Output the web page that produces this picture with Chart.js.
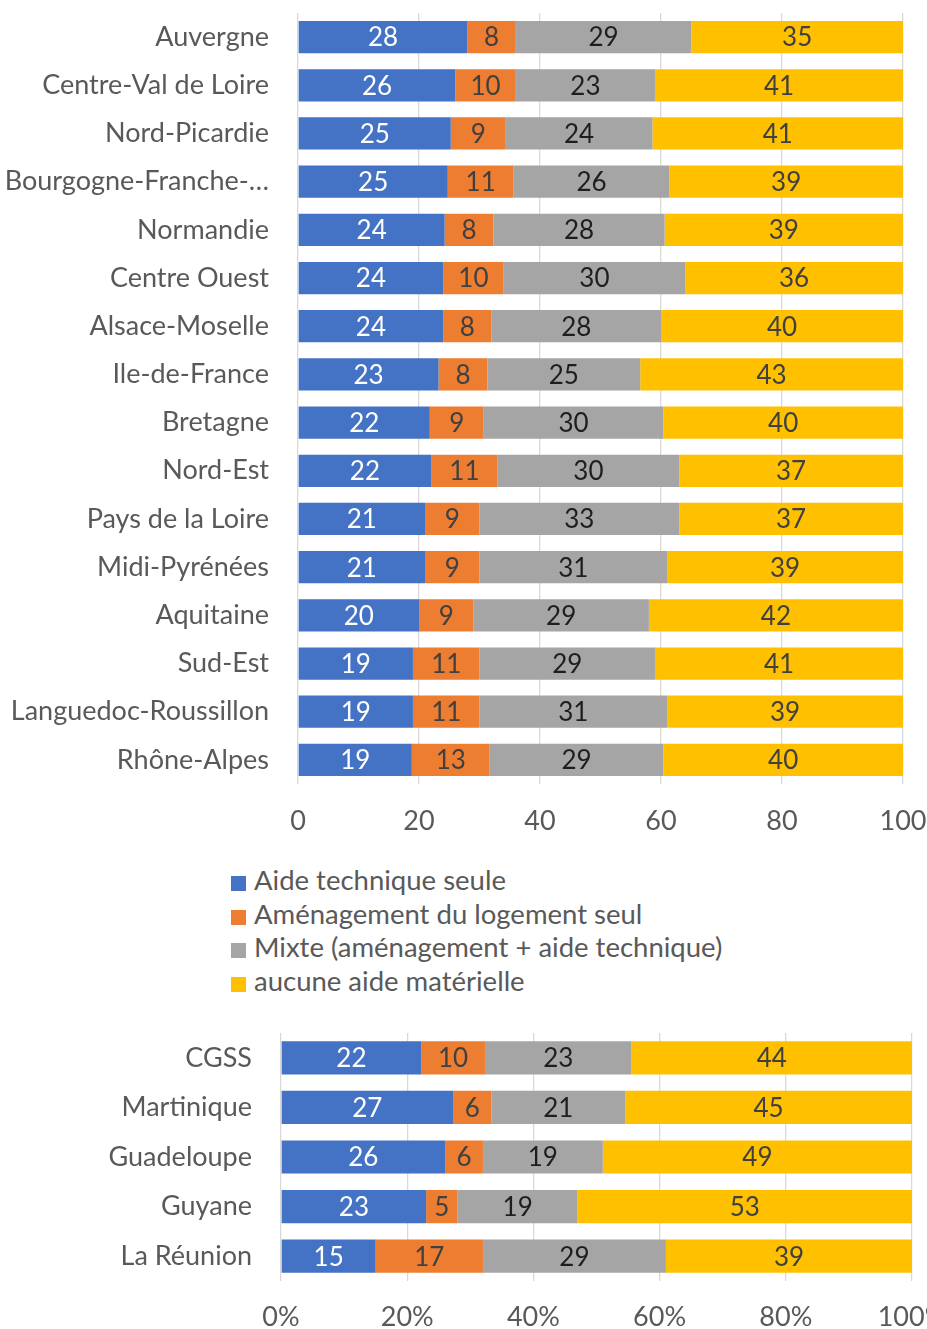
<!DOCTYPE html>
<html>
<head>
<meta charset="utf-8">
<script src="https://cdn.jsdelivr.net/npm/chart.js@4.4.1/dist/chart.umd.min.js"></script>
<style>
  body { margin: 0; background: #fff; width: 927px; height: 1329px; position: relative; overflow: hidden; }
  #top-wrap { position: absolute; left: 0; top: 0; width: 927px; height: 840px; }
  #bot-wrap { position: absolute; left: 0; top: 1010px; width: 927px; height: 319px; }
  #legend { position: absolute; left: 231px; top: 863px; font-family: Lato, sans-serif; font-size: 27.5px; color: #595959; }
  #legend div { height: 33.7px; line-height: 33.7px; white-space: nowrap; }
  #legend span.box { display: inline-block; width: 15px; height: 15px; margin-right: 8px; vertical-align: -1px; }
</style>
</head>
<body>
<div id="top-wrap"><canvas id="chart-regions"></canvas></div>
<div id="legend"></div>
<div id="bot-wrap"><canvas id="chart-dom"></canvas></div>
<script>
// series names and colours
var seriesNames = ["Aide technique seule", "Aménagement du logement seul", "Mixte (aménagement + aide technique)", "aucune aide matérielle"];
var seriesColors = ["#4472C4", "#ED7D31", "#A5A5A5", "#FFC000"];
var labelColors = ["#ffffff", "#404040", "#1e1e1e", "#404040"];

// top chart - regions
var regions = ["Auvergne", "Centre-Val de Loire", "Nord-Picardie", "Bourgogne-Franche-…", "Normandie", "Centre Ouest",
  "Alsace-Moselle", "Ile-de-France", "Bretagne", "Nord-Est", "Pays de la Loire", "Midi-Pyrénées", "Aquitaine",
  "Sud-Est", "Languedoc-Roussillon", "Rhône-Alpes"];
var regAide = [28, 26, 25, 25, 24, 24, 24, 23, 22, 22, 21, 21, 20, 19, 19, 19];
var regAmenag = [8, 10, 9, 11, 8, 10, 8, 8, 9, 11, 9, 9, 9, 11, 11, 13];
var regMixte = [29, 23, 24, 26, 28, 30, 28, 25, 30, 30, 33, 31, 29, 29, 31, 29];
var regAucune = [35, 41, 41, 39, 39, 36, 40, 43, 40, 37, 37, 39, 42, 41, 39, 40];
var regTicks = [0, 20, 40, 60, 80, 100];

// bottom chart - DOM
var doms = ["CGSS", "Martinique", "Guadeloupe", "Guyane", "La Réunion"];
var domAide = [22, 27, 26, 23, 15];
var domAmenag = [10, 6, 6, 5, 17];
var domMixte = [23, 21, 19, 19, 29];
var domAucune = [44, 45, 49, 53, 39];

var FONT = "Lato";
var TEXT = "#595959";
var GRID = "#d9d9d9";

// bars are 100% stacked, labels show the values read
function makeDatasets(series) {
  var totals = series[0].map(function (v, j) {
    return series.reduce(function (s, arr) { return s + arr[j]; }, 0);
  });
  return series.map(function (arr, i) {
    return {
      label: seriesNames[i],
      data: arr.map(function (v, j) { return v / totals[j] * 100; }),
      shown: arr,
      backgroundColor: seriesColors[i],
      borderWidth: 0,
      barPercentage: 0.67,
      categoryPercentage: 1
    };
  });
}

var barLabels = {
  id: "barLabels",
  afterDatasetsDraw: function (chart) {
    var ctx = chart.ctx;
    ctx.save();
    ctx.font = "26px " + FONT;
    ctx.textAlign = "center";
    ctx.textBaseline = "middle";
    chart.data.datasets.forEach(function (ds, i) {
      chart.getDatasetMeta(i).data.forEach(function (bar, j) {
        var p = bar.getProps(["x", "y", "base"], true);
        ctx.fillStyle = labelColors[i];
        ctx.fillText(ds.shown[j], (p.x + p.base) / 2, p.y + 1);
      });
    });
    ctx.restore();
  }
};

function makeChart(id, cats, series, opts) {
  return new Chart(document.getElementById(id), {
    type: "bar",
    data: { labels: cats, datasets: makeDatasets(series) },
    plugins: [barLabels],
    options: {
      indexAxis: "y",
      responsive: true,
      maintainAspectRatio: false,
      animation: false,
      layout: { padding: opts.padding },
      plugins: { legend: { display: false }, tooltip: { enabled: false } },
      scales: {
        x: {
          stacked: true,
          min: 0,
          max: 100,
          grid: { color: GRID, lineWidth: 1.3, drawTicks: false },
          border: { display: false },
          ticks: {
            stepSize: 20,
            padding: opts.tickPad,
            color: TEXT,
            font: { family: FONT, size: 27 },
            maxRotation: 0,
            callback: opts.tickFmt
          },
          afterFit: function (scale) {
            scale.height = opts.xHeight;
            scale.paddingLeft = 0;
            scale.paddingRight = 0;
          }
        },
        y: {
          stacked: true,
          grid: { display: false, drawTicks: false },
          border: { display: false },
          ticks: { padding: 29, color: TEXT, font: { family: FONT, size: 27 }, autoSkip: false },
          afterFit: function (scale) {
            scale.width = opts.yWidth;
            scale.paddingTop = 0;
            scale.paddingBottom = 0;
          }
        }
      }
    }
  });
}

var topChart = makeChart("chart-regions", regions, [regAide, regAmenag, regMixte, regAucune], {
  padding: { top: 13, right: 24, left: 0, bottom: 0 },
  yWidth: 298, xHeight: 56, tickPad: 21,
  tickFmt: function (v) { return regTicks.indexOf(v) >= 0 ? v : ""; }
});

var botChart = makeChart("chart-dom", doms, [domAide, domAmenag, domMixte, domAucune], {
  padding: { top: 23, right: 15, left: 0, bottom: 0 },
  yWidth: 281, xHeight: 48, tickPad: 20,
  tickFmt: function (v) { return v + "%"; }
});

// legend built from the chart's datasets
var legend = document.getElementById("legend");
topChart.data.datasets.forEach(function (ds) {
  var row = document.createElement("div");
  var box = document.createElement("span");
  box.className = "box";
  box.style.background = ds.backgroundColor;
  row.appendChild(box);
  row.appendChild(document.createTextNode(ds.label));
  legend.appendChild(row);
});
</script>
</body>
</html>
